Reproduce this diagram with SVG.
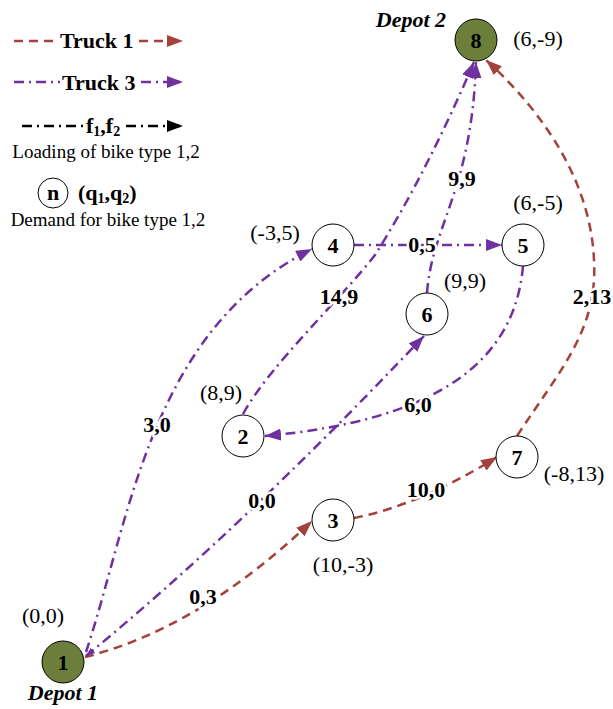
<svg xmlns="http://www.w3.org/2000/svg" width="613" height="709" viewBox="0 0 613 709">
<style>
text{font-family:"Liberation Serif","Times New Roman",serif;fill:#000}
.b{font-weight:bold;font-size:22px}
.n{font-size:22px}
.lab{font-weight:bold;font-size:22px;text-anchor:middle;paint-order:stroke;stroke:#fff;stroke-width:5px;stroke-linejoin:round}
.co{font-size:22px;text-anchor:middle}
.dep{font-weight:bold;font-style:italic;font-size:22px;text-anchor:middle}
.small{font-size:19px;text-anchor:middle}
.node{fill:#fff;stroke:#000;stroke-width:1}
.depot{fill:#6b7f3b;stroke:#000;stroke-width:1}
.nl{font-weight:bold;font-size:22px;text-anchor:middle}
.t1{fill:none;stroke:#a3413b;stroke-width:2.5;stroke-dasharray:9 6}
.t3{fill:none;stroke:#7030a0;stroke-width:2.5;stroke-dasharray:10 5 2 5}
.fk{fill:none;stroke:#000;stroke-width:2.5;stroke-dasharray:10 5 2 5}
</style>
<defs>
<marker id="ar" viewBox="0 0 16 12" refX="16" refY="6" markerWidth="16" markerHeight="12" markerUnits="userSpaceOnUse" orient="auto"><path d="M0,0 L16,6 L0,12 z" fill="#a3413b"/></marker>
<marker id="ap" viewBox="0 0 16 12" refX="16" refY="6" markerWidth="16" markerHeight="12" markerUnits="userSpaceOnUse" orient="auto"><path d="M0,0 L16,6 L0,12 z" fill="#7030a0"/></marker>
<marker id="aps" viewBox="0 0 16 12" refX="16" refY="6" markerWidth="9" markerHeight="7" markerUnits="userSpaceOnUse" orient="auto-start-reverse"><path d="M0,0 L16,6 L0,12 z" fill="#7030a0"/></marker>
<marker id="ak" viewBox="0 0 16 12" refX="16" refY="6" markerWidth="16" markerHeight="12" markerUnits="userSpaceOnUse" orient="auto"><path d="M0,0 L16,6 L0,12 z" fill="#000"/></marker>
</defs>

<g id="legend">
<line class="t1" x1="14" y1="41" x2="58" y2="41"/>
<text class="b" x="60" y="48">Truck 1</text>
<line class="t1" x1="139" y1="41" x2="183" y2="41" marker-end="url(#ar)"/>
<line class="t3" x1="14" y1="82" x2="60" y2="82"/>
<text class="b" x="62" y="90">Truck 3</text>
<line class="t3" x1="141" y1="82" x2="183" y2="82" marker-end="url(#ap)"/>
<line class="fk" x1="22" y1="126" x2="85" y2="126"/>
<text class="b" x="86" y="133">f<tspan font-size="14" dy="3">1</tspan><tspan dy="-3">,f</tspan><tspan font-size="14" dy="3">2</tspan></text>
<line class="fk" x1="126" y1="126" x2="183" y2="126" marker-end="url(#ak)"/>
<text class="small" x="106" y="158">Loading of bike type 1,2</text>
<circle class="node" cx="53" cy="193" r="15"/>
<text class="nl" x="53" y="200" font-size="20">n</text>
<text class="b" x="78" y="200">(q<tspan font-size="14" dy="3">1</tspan><tspan dy="-3">,q</tspan><tspan font-size="14" dy="3">2</tspan><tspan dy="-3">)</tspan></text>
<text class="small" x="108" y="226">Demand for bike type 1,2</text>
</g>

<g id="connectors">
<path class="t1" d="M85,657 Q200,628 312,521" marker-end="url(#ar)"/>
<path class="t1" d="M354,518 Q420,505 497,457" marker-end="url(#ar)"/>
<path class="t1" d="M517,436 C560,370 598,330 594,260 C590,170 530,100 486,60" marker-end="url(#ar)"/>
<path class="t3" d="M86,652 C130,520 150,330 312,249" marker-end="url(#ap)"/>
<path class="t3" d="M354,245 L502,245" marker-end="url(#ap)"/>
<path class="t3" d="M523,266 C515,360 440,420 265,436" marker-end="url(#ap)"/>
<path class="t3" d="M243,414 C270,365 340,300 375,255 C410,200 445,130 474,62" marker-end="url(#ap)"/>
<path class="t3" d="M86,656 Q240,530 424,336" marker-start="url(#aps)" marker-end="url(#ap)"/>
<path class="t3" d="M427,293 C432,225 472,190 476,62" marker-end="url(#ap)"/>
</g>

<g id="edge-labels">
<text class="lab" x="203" y="604">0,3</text>
<text class="lab" x="426" y="497">10,0</text>
<text class="lab" x="592" y="304">2,13</text>
<text class="lab" x="157" y="432">3,0</text>
<text class="lab" x="422" y="252">0,5</text>
<text class="lab" x="418" y="412">6,0</text>
<text class="lab" x="339" y="304">14,9</text>
<text class="lab" x="262" y="508">0,0</text>
<text class="lab" x="462" y="186">9,9</text>
</g>

<g id="node1">
<circle class="depot" cx="63" cy="662" r="21"/>
<text class="nl" x="63" y="670">1</text>
<text class="co" x="43" y="623">(0,0)</text>
<text class="dep" x="63" y="700">Depot 1</text>
</g>
<g id="node2">
<circle class="node" cx="243" cy="436" r="21"/>
<text class="nl" x="243" y="444">2</text>
<text class="co" x="221" y="400">(8,9)</text>
</g>
<g id="node3">
<circle class="node" cx="333" cy="520" r="21"/>
<text class="nl" x="333" y="528">3</text>
<text class="co" x="343" y="572">(10,-3)</text>
</g>
<g id="node4">
<circle class="node" cx="333" cy="245" r="21"/>
<text class="nl" x="333" y="253">4</text>
<text class="co" x="275" y="240">(-3,5)</text>
</g>
<g id="node5">
<circle class="node" cx="523" cy="245" r="21"/>
<text class="nl" x="523" y="253">5</text>
<text class="co" x="538" y="210">(6,-5)</text>
</g>
<g id="node6">
<circle class="node" cx="427" cy="314" r="21"/>
<text class="nl" x="427" y="322">6</text>
<text class="co" x="465" y="288">(9,9)</text>
</g>
<g id="node7">
<circle class="node" cx="517" cy="457" r="21"/>
<text class="nl" x="517" y="465">7</text>
<text class="co" x="574" y="481">(-8,13)</text>
</g>
<g id="node8">
<circle class="depot" cx="476" cy="40" r="21"/>
<text class="nl" x="476" y="48">8</text>
<text class="co" x="538" y="46">(6,-9)</text>
<text class="dep" x="411" y="27">Depot 2</text>
</g>
</svg>
